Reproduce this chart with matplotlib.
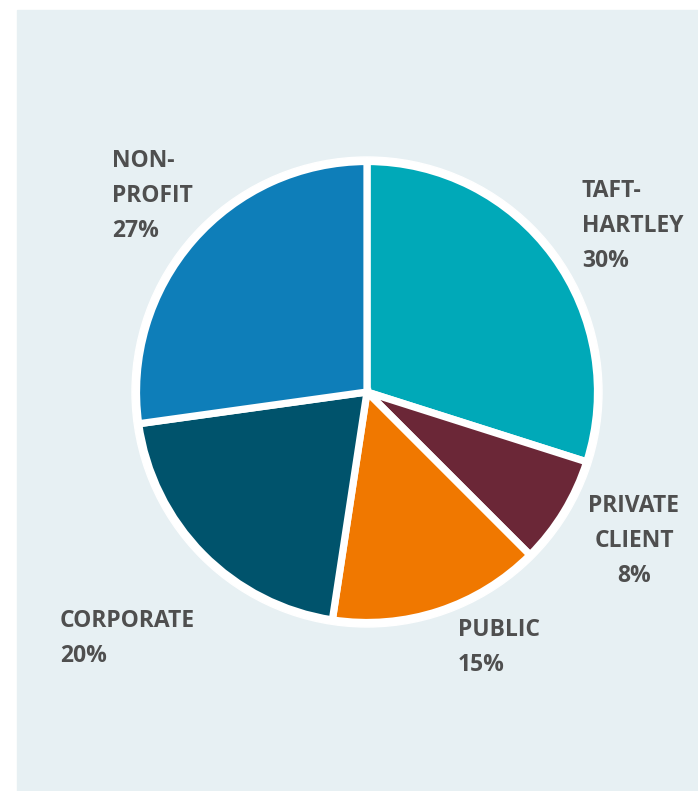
import matplotlib.pyplot as plt
from matplotlib.patches import Rectangle, Circle

# data (slice sizes; labels show them rounded)
labels = ["TAFT-\nHARTLEY", "PRIVATE\nCLIENT", "PUBLIC", "CORPORATE", "NON-\nPROFIT"]
shares = [29.9, 7.6, 14.9, 20.4, 27.2]
colors = ["#00A9B8", "#6B2737", "#F07800", "#00536C", "#0E7EB9"]

W, H = 698, 791
fig = plt.figure(figsize=(W / 100, H / 100), dpi=100)
ax = fig.add_axes([0, 0, 1, 1])
ax.set_xlim(0, W)
ax.set_ylim(0, H)
ax.axis("off")

# light panel
ax.add_patch(Rectangle((17, 0), W - 17, H - 10, color="#E7F0F3", zorder=0))

cx, cy = 367, H - 392
ax.add_patch(Circle((cx, cy), 235, color="white", zorder=1))
wedges, _ = ax.pie(shares, colors=colors, startangle=90, counterclock=False,
                   center=(cx, cy), radius=230.5, frame=True,
                   wedgeprops=dict(edgecolor="white", linewidth=5.2))
for w in wedges:
    w.set_zorder(2)
ax.set_xlim(0, W)
ax.set_ylim(0, H)
ax.set_aspect("equal")
ax.axis("off")

# label positions (top of text, image pixels) and alignment
pos = [(582, 179, "left"), (634, 494, "center"), (458, 618, "left"),
       (60, 609, "left"), (112, 149, "left")]
for lab, v, (x, y, ha) in zip(labels, shares, pos):
    ax.text(x, H - y, f"{lab}\n{round(v)}%", ha=ha, va="top", color="#4F4F4F",
            fontsize=16.5, fontweight="bold", family="Open Sans",
            linespacing=1.6, multialignment=ha, zorder=3)

fig.savefig("out.png", dpi=100)
